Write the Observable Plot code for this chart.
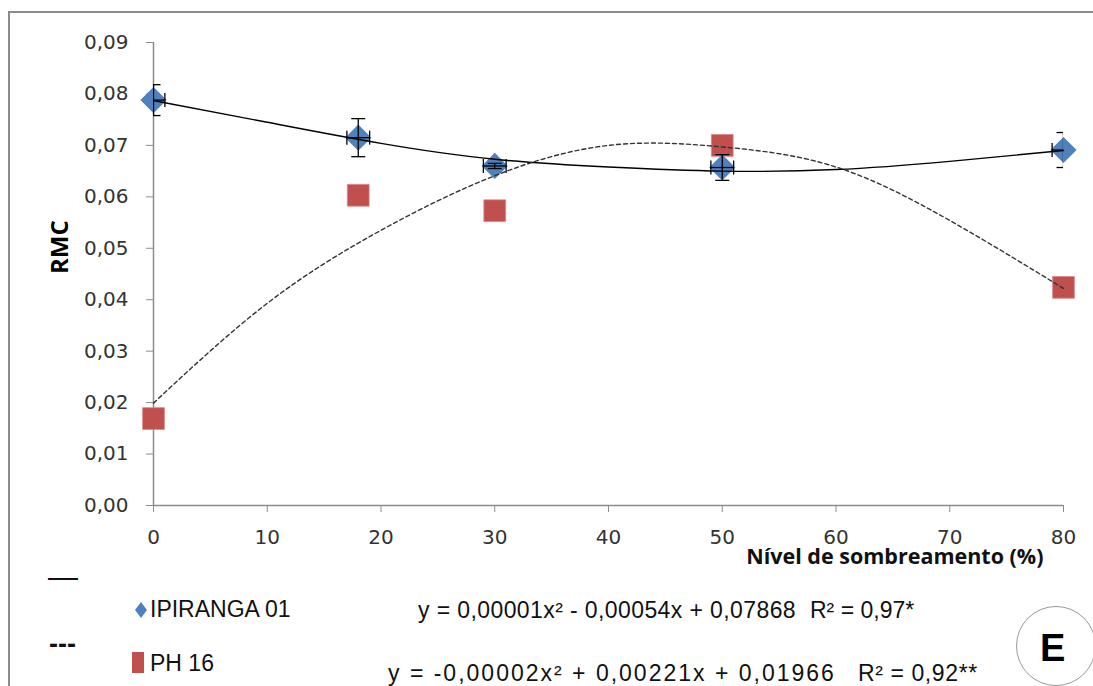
<!DOCTYPE html>
<html>
<head>
<meta charset="utf-8">
<script src="https://cdn.jsdelivr.net/npm/d3@7"></script>
<script src="https://cdn.jsdelivr.net/npm/@observablehq/plot@0.6"></script>
<style>
  html, body { margin: 0; padding: 0; background: #fff; }
  #wrap { position: relative; width: 1093px; height: 686px; overflow: hidden; background: #fff; }
  #frame { position: absolute; left: 8px; top: 11px; width: 1200px; height: 800px; border-left: 2px solid #8c8c8c; border-top: 2px solid #8c8c8c; }
  #chart { position: absolute; left: 0; top: 0; }
  .lbl { position: absolute; white-space: nowrap; font-family: "Liberation Sans", Arial, sans-serif; color: #111; line-height: 1; transform: translateY(-50%); }
  #circ { position: absolute; left: 1016px; top: 606px; width: 78px; height: 78px; border: 1.2px solid #9a9a9a; border-radius: 50%; }
</style>
</head>
<body>
<div id="wrap">
  <div id="frame"></div>
  <div id="chart"></div>
  <div class="lbl" style="left:48px; top:577px; font-size:30px;">—</div>
  <div class="lbl" style="left:49px; top:644px; font-size:27px; font-weight:bold;">---</div>
  <svg style="position:absolute; left:134px; top:601px;" width="14" height="18"><path d="M7,1 L13,9 L7,17 L1,9 Z" fill="#4F81BD"/></svg>
  <div class="lbl" style="left:150px; top:609px; font-size:23px;">IPIRANGA 01</div>
  <svg style="position:absolute; left:132px; top:652px;" width="12" height="21"><rect x="0" y="0" width="12" height="21" fill="#C0504D"/></svg>
  <div class="lbl" style="left:150px; top:663px; font-size:23px;">PH 16</div>
  <div class="lbl" style="left:418px; top:610px; font-size:23px; letter-spacing:0.4px;">y = 0,00001x² - 0,00054x + 0,07868</div>
  <div class="lbl" style="left:810px; top:610px; font-size:23px;">R² = 0,97*</div>
  <div class="lbl" style="left:388px; top:673px; font-size:23px; letter-spacing:2px;">y = -0,00002x² + 0,00221x + 0,01966</div>
  <div class="lbl" style="left:858px; top:673px; font-size:23px; letter-spacing:0.6px;">R² = 0,92**</div>
  <div id="circ"></div>
  <div class="lbl" style="left:1040px; top:648px; font-size:38px; font-weight:bold; color:#000;">E</div>
</div>
<script>
// Shading level (%)
const shading = [0, 18, 30, 50, 80];
// IPIRANGA 01 observed RMC and error bars
const ipiranga = [0.0788, 0.0715, 0.0660, 0.0657, 0.0691];
const ipirangaErrY = [0.0030, 0.0037, 0.0005, 0.0025, 0.0034];
const ipirangaErrX = [1, 1, 1, 1, 1];
// PH 16 observed RMC
const ph16 = [0.0169, 0.0603, 0.0573, 0.0700, 0.0424];
// Trend lines
const trendX = [0, 10, 20, 30, 40, 50, 60, 70, 80];
const trendIpiranga = [0.0787, 0.0745, 0.0704, 0.0673, 0.0658, 0.0650, 0.0653, 0.0669, 0.0690];
const trendPh16 = [0.0199, 0.0393, 0.0535, 0.0641, 0.0700, 0.0697, 0.0658, 0.0554, 0.0422];
// Ticks
const yTicks = [0, 0.01, 0.02, 0.03, 0.04, 0.05, 0.06, 0.07, 0.08, 0.09];
const xTicks = [0, 10, 20, 30, 40, 50, 60, 70, 80];

const ipData = shading.map((x, i) => ({x, y: ipiranga[i], ey: ipirangaErrY[i], ex: ipirangaErrX[i]}));
const phData = shading.map((x, i) => ({x, y: ph16[i]}));
const tIp = trendX.map((x, i) => ({x, y: trendIpiranga[i]}));
const tPh = trendX.map((x, i) => ({x, y: trendPh16[i]}));

const hCap = {draw(ctx, size) { const r = Math.sqrt(size / Math.PI); ctx.moveTo(-r, 0); ctx.lineTo(r, 0); }};
const vCap = {draw(ctx, size) { const r = Math.sqrt(size / Math.PI); ctx.moveTo(0, -r); ctx.lineTo(0, r); }};
const fmtY = d => d.toFixed(2).replace(".", ",");

const chart = Plot.plot({
  width: 1093,
  height: 560,
  marginLeft: 153,
  marginRight: 30,
  marginTop: 42,
  marginBottom: 55,
  style: {fontFamily: "'DejaVu Sans', sans-serif", fontSize: "20px", color: "#333", background: "transparent", overflow: "visible"},
  x: {domain: [0, 80], ticks: xTicks},
  y: {domain: [0, 0.09], ticks: yTicks},
  marks: [
    Plot.axisY(yTicks, {tickSize: 7, tickPadding: 18, tickFormat: fmtY, stroke: "#8c8c8c", color: "#333", label: null}),
    Plot.axisX(xTicks, {tickSize: 7, tickPadding: 17, stroke: "#8c8c8c", color: "#333", label: null}),
    Plot.ruleX([0], {stroke: "#8c8c8c", strokeWidth: 1.5}),
    Plot.ruleY([0], {stroke: "#8c8c8c", strokeWidth: 1.5}),
    Plot.text(["RMC"], {frameAnchor: "left", dx: -93, rotate: -90, fontWeight: "bold", fontSize: 24, fill: "#000", fontFamily: "'Liberation Sans Narrow', 'Open Sans', sans-serif"}),
    Plot.text(["Nível de sombreamento (%)"], {frameAnchor: "bottom-right", dx: -20, dy: 58, textAnchor: "end", fontWeight: "bold", fontSize: 21.5, fill: "#111", fontFamily: "'Open Sans', sans-serif"}),
    Plot.dot(phData, {x: "x", y: "y", symbol: "square", r: 12.3, fill: "#C0504D", stroke: "#d88", strokeWidth: 0.8}),
    Plot.dot(ipData, {x: "x", y: "y", symbol: "diamond2", r: 11.8, fill: "#4F81BD", stroke: "none"}),
    Plot.ruleX(ipData, {x: "x", y1: d => d.y - d.ey, y2: d => d.y + d.ey, stroke: "#000", strokeWidth: 1.3, clip: true}),
    Plot.ruleY(ipData, {y: "y", x1: d => d.x - d.ex, x2: d => d.x + d.ex, stroke: "#000", strokeWidth: 1.3, clip: true}),
    Plot.dot(ipData, {x: "x", y: d => d.y + d.ey, symbol: hCap, r: 7, stroke: "#000", strokeWidth: 1.3, fill: "none", clip: true}),
    Plot.dot(ipData, {x: "x", y: d => d.y - d.ey, symbol: hCap, r: 7, stroke: "#000", strokeWidth: 1.3, fill: "none", clip: true}),
    Plot.dot(ipData, {x: d => d.x + d.ex, y: "y", symbol: vCap, r: 7, stroke: "#000", strokeWidth: 1.3, fill: "none", clip: true}),
    Plot.dot(ipData, {x: d => d.x - d.ex, y: "y", symbol: vCap, r: 7, stroke: "#000", strokeWidth: 1.3, fill: "none", clip: true}),
    Plot.line(tIp, {x: "x", y: "y", curve: "natural", stroke: "#000", strokeWidth: 1.4}),
    Plot.line(tPh, {x: "x", y: "y", curve: "natural", stroke: "#333", strokeWidth: 1.4, strokeDasharray: "4,3"})
  ]
});
document.getElementById("chart").appendChild(chart);
</script>
</body>
</html>
